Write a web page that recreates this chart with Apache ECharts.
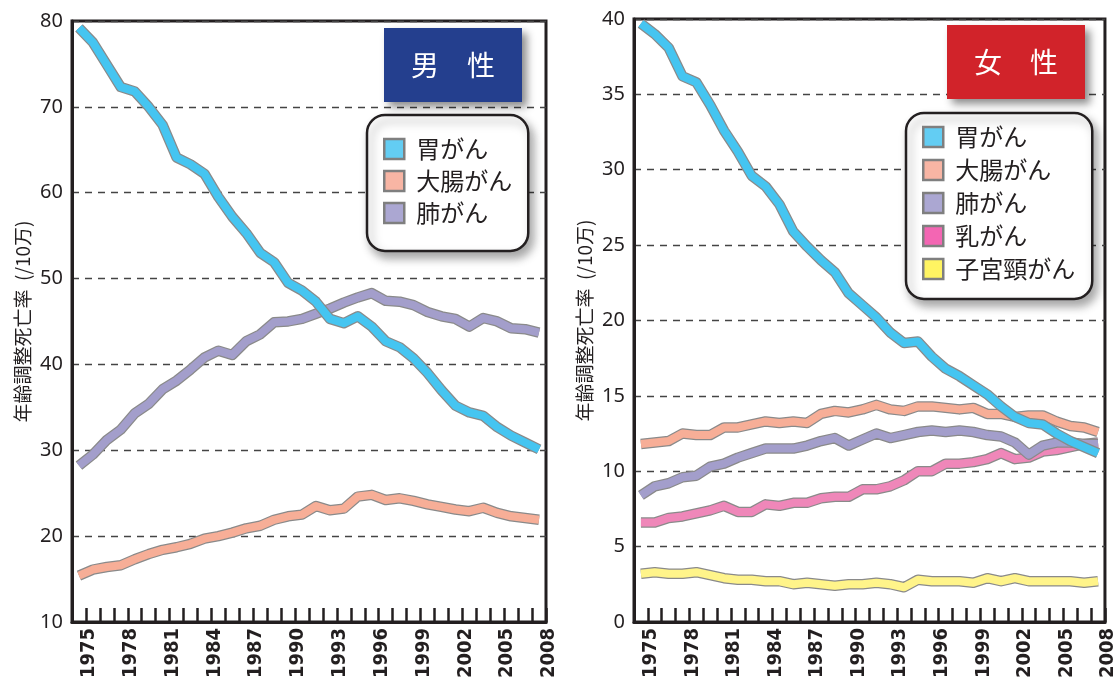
<!DOCTYPE html>
<html>
<head>
<meta charset="utf-8">
<script src="https://cdn.jsdelivr.net/npm/echarts@6/dist/echarts.min.js"></script>
<style>
  html, body { margin: 0; padding: 0; background: #fff; }
  #chart { width: 1118px; height: 681px; }
</style>
</head>
<body>
<div id="chart"></div>
<script>
// 年（横軸カテゴリ）
const years = ["1975","1976","1977","1978","1979","1980","1981","1982","1983","1984",
  "1985","1986","1987","1988","1989","1990","1991","1992","1993","1994",
  "1995","1996","1997","1998","1999","2000","2001","2002","2003","2004",
  "2005","2006","2007","2008"];

// 男性（年齢調整死亡率 /10万）
const maleStomach = [79.2,77.5,74.9,72.3,71.8,70.0,67.9,64.1,63.3,62.2,59.5,57.2,55.3,53.0,51.9,49.5,
  48.6,47.3,45.3,44.8,45.6,44.4,42.7,42.0,40.7,39.0,37.0,35.2,34.4,34.0,32.7,31.7,30.9,30.1];
const maleColon = [15.4,16.1,16.4,16.6,17.3,17.9,18.4,18.7,19.1,19.7,20.0,20.4,20.9,21.2,21.9,22.3,
  22.5,23.5,23.0,23.2,24.6,24.8,24.2,24.4,24.1,23.7,23.4,23.1,22.9,23.3,22.7,22.3,22.1,21.9];
const maleLung = [28.2,29.5,31.2,32.4,34.3,35.4,37.1,38.1,39.4,40.8,41.6,41.1,42.7,43.5,44.9,45.0,
  45.3,45.9,46.5,47.2,47.8,48.3,47.4,47.3,46.9,46.1,45.6,45.3,44.4,45.4,45.0,44.2,44.1,43.7];

// 女性
const femaleStomach = [39.7,39.0,38.1,36.2,35.8,34.3,32.6,31.2,29.6,28.9,27.7,25.9,24.9,24.0,23.2,21.8,
  21.0,20.2,19.2,18.5,18.6,17.6,16.8,16.3,15.7,15.1,14.3,13.6,13.2,13.1,12.5,12.0,11.6,11.2];
const femaleColon = [11.8,11.9,12.0,12.5,12.4,12.4,12.9,12.9,13.1,13.3,13.2,13.3,13.2,13.8,14.0,13.9,
  14.1,14.4,14.1,14.0,14.3,14.3,14.2,14.1,14.2,13.8,13.8,13.6,13.7,13.7,13.3,13.0,12.9,12.6];
const femaleLung = [8.4,9.0,9.2,9.6,9.7,10.3,10.5,10.9,11.2,11.5,11.5,11.5,11.7,12.0,12.2,11.7,
  12.1,12.5,12.2,12.4,12.6,12.7,12.6,12.7,12.6,12.4,12.3,11.9,11.1,11.7,11.9,11.9,11.8,11.8];
const femaleBreast = [6.6,6.6,6.9,7.0,7.2,7.4,7.7,7.3,7.3,7.8,7.7,7.9,7.9,8.2,8.3,8.3,
  8.8,8.8,9.0,9.4,10.0,10.0,10.5,10.5,10.6,10.8,11.2,10.8,10.9,11.3,11.4,11.6,11.8,11.9];
const femaleCervix = [3.2,3.3,3.2,3.2,3.3,3.1,2.9,2.8,2.8,2.7,2.7,2.5,2.6,2.5,2.4,2.5,
  2.5,2.6,2.5,2.3,2.8,2.7,2.7,2.7,2.6,2.9,2.7,2.9,2.7,2.7,2.7,2.7,2.6,2.7];

// 縦軸の範囲
const maleAxis = { min: 10, max: 80, interval: 10 };
const femaleAxis = { min: 0, max: 40, interval: 5 };

const chart = echarts.init(document.getElementById("chart"));

const INK = "#231f20";
const JP = "Noto Sans CJK JP";
const OUTLINE = "#8a8a8a";

// 灰色のふち + 色の帯で太線を描く
const bandLine = (name, data, color, idx) => [
  {
    type: "line", xAxisIndex: idx, yAxisIndex: idx, data: data,
    symbol: "none", silent: true,
    lineStyle: { color: OUTLINE, width: 10.5, join: "round" }
  },
  {
    name: name, type: "line", xAxisIndex: idx, yAxisIndex: idx, data: data,
    symbol: "none", color: color,
    lineStyle: { color: color, width: 8, join: "round" }
  }
];

const xAxisCfg = (idx) => ({
  type: "category", gridIndex: idx, data: years, boundaryGap: true,
  axisLine: { lineStyle: { color: INK, width: 3 } },
  axisTick: { show: true, inside: true, length: 14, interval: 0, lineStyle: { color: INK, width: 2.5 } },
  axisLabel: {
    interval: 2, rotate: 90, margin: 6, verticalAlign: "top",
    color: INK, fontSize: 20, fontWeight: "bold",
    fontFamily: "'Liberation Sans Narrow', 'DejaVu Sans Condensed', sans-serif"
  },
  splitLine: { show: false }
});

const yAxisCfg = (idx, range) => ({
  type: "value", gridIndex: idx, min: range.min, max: range.max, interval: range.interval,
  name: "年齢調整死亡率  (/10万)", nameLocation: "middle", nameGap: 40, nameRotate: 90,
  nameTextStyle: { color: INK, fontSize: 19, fontFamily: JP },
  axisLine: { show: true, lineStyle: { color: INK, width: 3 } },
  axisTick: { show: false },
  axisLabel: { color: INK, fontSize: 20, margin: 9, fontFamily: "Noto Sans" },
  splitLine: { lineStyle: { color: "#444", width: 1.3, type: [7, 6] } }
});

const legendCfg = (left, top, items, padding, gap) => ({
  orient: "vertical", left: left, top: top, icon: "rect",
  data: items.map(([n, c]) => ({ name: n, itemStyle: { color: c } })),
  itemWidth: 20, itemHeight: 20, itemGap: gap, padding: padding,
  backgroundColor: "#fff", borderColor: INK, borderWidth: 2.5, borderRadius: 18,
  shadowBlur: 10, shadowOffsetX: 4, shadowOffsetY: 6, shadowColor: "rgba(0,0,0,0.35)",
  itemStyle: { borderColor: "#7f7f7f", borderWidth: 2.5 },
  textStyle: { color: INK, fontSize: 24, lineHeight: 23, padding: [0, 0, 0, 7], fontFamily: JP }
});

const titleCfg = (text, left, top, bg) => ({
  text: text, left: left, top: top, padding: [22, 27], backgroundColor: bg,
  shadowBlur: 8, shadowOffsetX: 5, shadowOffsetY: 5, shadowColor: "rgba(0,0,0,0.45)",
  textStyle: { color: "#fff", fontSize: 28, lineHeight: 30, fontWeight: "normal", fontFamily: JP }
});

const option = {
  backgroundColor: "#fff",
  animation: false,
  title: [
    titleCfg("男　性", 384, 28, "#243f8e"),
    titleCfg("女　性", 947, 25, "#d1232a")
  ],
  legend: [
    legendCfg(367, 115, [["胃がん", "#63cdf3"], ["大腸がん", "#f8b5a4"], ["肺がん", "#aba7d2"]], [22, 16, 26, 16], 8),
    legendCfg(906, 113, [["胃がん", "#63cdf3"], ["大腸がん", "#f8b5a4"], ["肺がん", "#aba7d2"],
      ["乳がん", "#f366b3"], ["子宮頸がん", "#fff462"]], [12, 17, 18, 16], 9)
  ],
  grid: [
    { left: 72, top: 21, width: 474, height: 611, show: true, borderColor: INK, borderWidth: 3 },
    { left: 634, top: 19, width: 473, height: 611, show: true, borderColor: INK, borderWidth: 3 }
  ],
  xAxis: [xAxisCfg(0), xAxisCfg(1)],
  yAxis: [yAxisCfg(0, maleAxis), yAxisCfg(1, femaleAxis)],
  series: [
    ...bandLine("大腸がん", maleColon, "#f7ae97", 0),
    ...bandLine("肺がん", maleLung, "#a39ecb", 0),
    ...bandLine("胃がん", maleStomach, "#45c5f1", 0),
    ...bandLine("子宮頸がん", femaleCervix, "#fff48a", 1),
    ...bandLine("乳がん", femaleBreast, "#ef87b9", 1),
    ...bandLine("大腸がん", femaleColon, "#f7ae97", 1),
    ...bandLine("肺がん", femaleLung, "#a39ecb", 1),
    ...bandLine("胃がん", femaleStomach, "#45c5f1", 1)
  ]
};

chart.setOption(option);
</script>
</body>
</html>
